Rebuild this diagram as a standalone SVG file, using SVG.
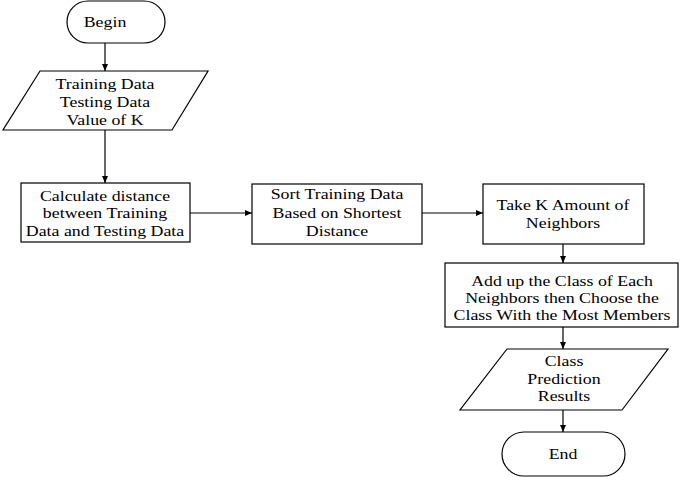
<svg xmlns="http://www.w3.org/2000/svg" width="683" height="477" viewBox="0 0 683 477">
<style>
.s{fill:#fff;stroke:#000;stroke-width:1.2}
.t{font-family:"Liberation Serif","Times New Roman",serif;font-size:15px;fill:#000;text-anchor:middle}
.c{stroke:#000;stroke-width:1.2;fill:none;marker-end:url(#ah)}
</style>
<defs>
<marker id="ah" markerWidth="8" markerHeight="8" refX="7" refY="4" orient="auto" markerUnits="userSpaceOnUse">
<path d="M0,1 L7,4 L0,7 Z" fill="#000"/>
</marker>
</defs>
<rect width="683" height="477" fill="#fff"/>
<g id="connectors">
<line class="c" x1="105" y1="43" x2="105" y2="71"/>
<line class="c" x1="105" y1="130" x2="105" y2="183"/>
<line class="c" x1="190" y1="213" x2="252" y2="213"/>
<line class="c" x1="422" y1="213" x2="483" y2="213"/>
<line class="c" x1="563" y1="244" x2="563" y2="263"/>
<line class="c" x1="563" y1="327" x2="563" y2="349"/>
<line class="c" x1="563" y1="410" x2="563" y2="432"/>
</g>
<g id="begin">
<rect class="s" x="67" y="1" width="98" height="42" rx="21"/>
<text class="t" transform="translate(105,27) scale(1.19,1)">Begin</text>
</g>
<g id="input">
<polygon class="s" points="40,71 208,71 172,130 3,130"/>
<text class="t" transform="translate(105,89) scale(1.19,1)">Training Data</text>
<text class="t" transform="translate(105,107) scale(1.19,1)">Testing Data</text>
<text class="t" transform="translate(105,125) scale(1.19,1)">Value of K</text>
</g>
<g id="calc">
<rect class="s" x="21" y="183" width="169" height="59"/>
<text class="t" transform="translate(105,201) scale(1.19,1)">Calculate distance</text>
<text class="t" transform="translate(105,218) scale(1.19,1)">between Training</text>
<text class="t" transform="translate(105,236) scale(1.19,1)">Data and Testing Data</text>
</g>
<g id="sort">
<rect class="s" x="252" y="184" width="170" height="60"/>
<text class="t" transform="translate(337,199) scale(1.19,1)">Sort Training Data</text>
<text class="t" transform="translate(337,218) scale(1.19,1)">Based on Shortest</text>
<text class="t" transform="translate(337,236) scale(1.19,1)">Distance</text>
</g>
<g id="take">
<rect class="s" x="483" y="184" width="161" height="60"/>
<text class="t" transform="translate(563,210) scale(1.19,1)">Take K Amount of</text>
<text class="t" transform="translate(563,228) scale(1.19,1)">Neighbors</text>
</g>
<g id="add">
<rect class="s" x="445" y="263" width="233" height="64"/>
<text class="t" transform="translate(562,286) scale(1.19,1)">Add up the Class of Each</text>
<text class="t" transform="translate(562,303) scale(1.19,1)">Neighbors then Choose the</text>
<text class="t" transform="translate(562,320) scale(1.19,1)">Class With the Most Members</text>
</g>
<g id="output">
<polygon class="s" points="507,349 668,349 622,410 460,410"/>
<text class="t" transform="translate(564,366) scale(1.19,1)">Class</text>
<text class="t" transform="translate(564,384) scale(1.19,1)">Prediction</text>
<text class="t" transform="translate(564,401) scale(1.19,1)">Results</text>
</g>
<g id="end">
<rect class="s" x="502" y="432" width="123" height="44" rx="22"/>
<text class="t" transform="translate(563,459) scale(1.19,1)">End</text>
</g>
</svg>
